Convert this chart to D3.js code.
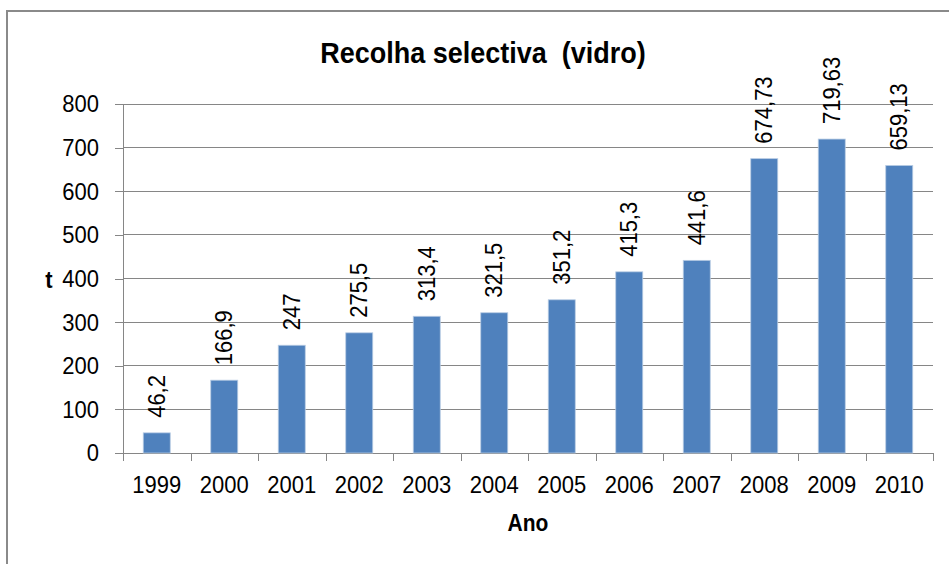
<!DOCTYPE html>
<html>
<head>
<meta charset="utf-8">
<script src="https://cdn.jsdelivr.net/npm/d3@7"></script>
<style>
  body { margin: 0; background: #fff; }
  text { font-family: "Liberation Sans", Arial, sans-serif; fill: #000; }
</style>
</head>
<body>
<script>
// chart data
const years = ["1999", "2000", "2001", "2002", "2003", "2004", "2005", "2006", "2007", "2008", "2009", "2010"];
const tonnes = [46.2, 166.9, 247, 275.5, 313.4, 321.5, 351.2, 415.3, 441.6, 674.73, 719.63, 659.13];
const labels = ["46,2", "166,9", "247", "275,5", "313,4", "321,5", "351,2", "415,3", "441,6", "674,73", "719,63", "659,13"];
const yTicks = [0, 100, 200, 300, 400, 500, 600, 700, 800];

const width = 949;
const height = 564;
const plotLeft = 123, plotRight = 933, plotTop = 104, plotBottom = 453;
const stretch = 1.1; // glyphs in the original render a bit taller than Liberation Sans

var svg = d3.select("body").append("svg")
    .attr("width", width)
    .attr("height", height);

// outer chart border (runs off the right and bottom)
svg.append("rect")
    .attr("x", 7).attr("y", 11)
    .attr("width", 980).attr("height", 600)
    .attr("fill", "none")
    .attr("stroke", "#8a8a8a")
    .attr("stroke-width", 2);

var x = d3.scaleBand().domain(years).range([plotLeft, plotRight])
    .paddingInner(0.6).paddingOuter(0.3);
var y = d3.scaleLinear().domain([0, 800]).range([plotBottom, plotTop]);
// category boundaries for the tick marks
var xEdge = d3.scaleLinear().domain([0, years.length]).range([plotLeft, plotRight]);

// gridlines
svg.append("g").selectAll("line")
    .data(yTicks.filter(d => d > 0))
    .enter().append("line")
    .attr("x1", plotLeft).attr("x2", plotRight)
    .attr("y1", d => y(d)).attr("y2", d => y(d))
    .attr("stroke", "#868686")
    .attr("stroke-width", 1)
    .attr("shape-rendering", "crispEdges");

// y axis
var yAxis = svg.append("g")
    .attr("transform", "translate(" + plotLeft + ",0)")
    .call(d3.axisLeft(y).tickValues(yTicks).tickSize(8).tickSizeOuter(0).tickPadding(16));
yAxis.select(".domain").attr("stroke", "#868686").attr("shape-rendering", "crispEdges");
yAxis.selectAll(".tick line").attr("stroke", "#868686").attr("shape-rendering", "crispEdges");
yAxis.selectAll(".tick text")
    .style("font-size", "22px")
    .attr("dy", "0.33em")
    .attr("transform", "scale(1," + stretch + ")");

// x axis: boundary ticks
var xTickAxis = svg.append("g")
    .attr("transform", "translate(0," + plotBottom + ")")
    .call(d3.axisBottom(xEdge).tickValues(d3.range(0, years.length + 1)).tickSize(8).tickSizeOuter(0).tickFormat(""));
xTickAxis.select(".domain").attr("stroke", "#868686").attr("shape-rendering", "crispEdges");
xTickAxis.selectAll(".tick line").attr("stroke", "#868686").attr("shape-rendering", "crispEdges");

// x axis: year labels
var xAxis = svg.append("g")
    .attr("transform", "translate(0," + plotBottom + ")")
    .call(d3.axisBottom(x).tickSize(0));
xAxis.select(".domain").remove();
xAxis.selectAll(".tick text")
    .style("font-size", "22px")
    .attr("y", 40 / stretch)
    .attr("dy", 0)
    .attr("transform", "scale(1," + stretch + ")");

// bars
svg.append("g").selectAll("rect")
    .data(tonnes)
    .enter().append("rect")
    .attr("x", (d, i) => x(years[i]))
    .attr("y", d => y(d))
    .attr("width", x.bandwidth())
    .attr("height", d => plotBottom - y(d))
    .attr("fill", "#4f81bd")
    .attr("stroke", "#b8cce4")
    .attr("stroke-width", 0.8);

// value labels, rotated
svg.append("g").selectAll("text")
    .data(tonnes)
    .enter().append("text")
    .attr("transform", (d, i) => "translate(" + (x(years[i]) + x.bandwidth() / 2) + "," + (y(d) - 15) + ") rotate(-90) scale(1," + stretch + ")")
    .attr("dy", "0.33em")
    .style("font-size", "22px")
    .text((d, i) => labels[i]);

// title
svg.append("text")
    .attr("transform", "translate(483,63) scale(1,1.09)")
    .attr("text-anchor", "middle")
    .style("font-size", "27px")
    .style("font-weight", "bold")
    .style("white-space", "pre")
    .text("Recolha selectiva  (vidro)");

// axis titles
svg.append("text")
    .attr("transform", "translate(528,531) scale(1," + stretch + ")")
    .attr("text-anchor", "middle")
    .style("font-size", "21px")
    .style("font-weight", "bold")
    .text("Ano");

svg.append("text")
    .attr("transform", "translate(49,288) scale(1," + stretch + ")")
    .attr("text-anchor", "middle")
    .style("font-size", "22px")
    .style("font-weight", "bold")
    .text("t");
</script>
</body>
</html>
